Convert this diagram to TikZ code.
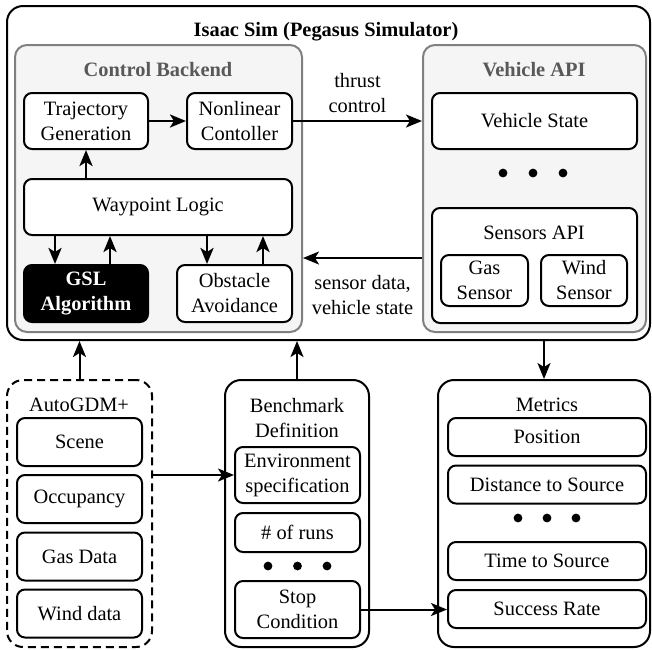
\documentclass[tikz,border=0pt]{standalone}
\usepackage{fontspec}
\setmainfont{Liberation Serif}
\newfontfamily\diagfont{Liberation Serif}
\usetikzlibrary{arrows.meta}

\definecolor{panelfill}{HTML}{F5F5F5}
\definecolor{paneldraw}{HTML}{808080}
\definecolor{titlegray}{HTML}{595959}

\begin{document}
\begin{tikzpicture}[
        x=0.5pt, y=-0.5pt,
        font=\diagfont\fontsize{10.2}{12.5}\selectfont,
        every node/.style={inner sep=0pt, align=center},
        outer/.style={draw, rounded corners=8pt, line width=1pt},
        panel/.style={draw=paneldraw, fill=panelfill, rounded corners=6pt, line width=1pt},
        group/.style={draw, rounded corners=8pt, line width=1pt},
        box/.style={draw, fill=white, rounded corners=4pt, line width=1pt},
        title/.style={font=\diagfont\fontsize{10.2}{12.5}\selectfont\bfseries},
        arr/.style={-{Stealth[length=8pt, width=6.5pt, inset=2pt]}, line width=1pt},
        thickarr/.style={arr, line width=1.4pt}
    ]
    \useasboundingbox (0,0) rectangle (652,649);

    % simulator
    \node[outer, minimum width=321.5pt, minimum height=167pt] (isaac) at (328.5,173) {};
    \node[title] (isaact) at (326,32) {Isaac Sim (Pegasus Simulator)};

    % control backend
    \node[panel, minimum width=143.5pt, minimum height=143.5pt] (ctrl) at (158.5,188.5) {};
    \node[title, text=titlegray] (ctrlt) at (158,70) {Control Backend};
    \node[box, minimum width=62pt, minimum height=28pt]   (traj)   at ( 86,121)   {Trajectory\\Generation};
    \node[box, minimum width=52.5pt, minimum height=28pt] (nonlin) at (239.5,121) {Nonlinear\\Contoller};
    \node[box, minimum width=134pt, minimum height=28pt]  (waypt)  at (158,207)   {Waypoint Logic};
    \node[box, title, fill=black, text=white, minimum width=62pt, minimum height=28.5pt]
        (gsl) at (86,293.5) {GSL\\Algorithm};
    \node[box, minimum width=57.5pt, minimum height=28.5pt] (obst) at (234.5,293.5) {Obstacle\\Avoidance};

    % vehicle api
    \node[panel, minimum width=111.5pt, minimum height=143.5pt] (vapi) at (534.5,188.5) {};
    \node[title, text=titlegray] (vapit) at (534,70) {Vehicle API};
    \node[box, minimum width=102.5pt, minimum height=28pt] (vstate) at (534.5,121) {Vehicle State};
    \foreach \dx in {-30,0,30}
        \fill (533+\dx,173) circle (2.2pt);
    \node[box, minimum width=102.5pt, minimum height=57.5pt] (sapi) at (534.5,265.5) {};
    \node (sapit) at (534,233) {Sensors API};
    \node[box, minimum width=43.5pt, minimum height=25.5pt] (gas)  at (484.5,280.5) {Gas\\Sensor};
    \node[box, minimum width=43pt, minimum height=25.5pt]   (wind) at (584,280.5)   {Wind\\Sensor};

    % arrows inside the simulator
    \coordinate (gslin)  at ([xshift=-15.5pt]gsl.north);
    \coordinate (gslout) at ([xshift=12pt]gsl.north);
    \coordinate (obsin)  at ([xshift=-13.75pt]obst.north);
    \coordinate (obsout) at ([xshift=14.25pt]obst.north);
    \coordinate (sdin)   at ([yshift=-34.75pt]vapi.west);

    \draw[thickarr] (traj) -- (nonlin);
    \draw[thickarr] (waypt.north -| traj) -- (traj.south);
    \draw[thickarr] (gslin |- waypt.south) -- (gslin);
    \draw[thickarr] (gslout) -- (gslout |- waypt.south);
    \draw[thickarr] (obsin |- waypt.south) -- (obsin);
    \draw[thickarr] (obsout) -- (obsout |- waypt.south);
    \draw[arr] (nonlin.east) -- node[above=3.5pt] {thrust\\control} (nonlin -| vapi.west);
    \draw[arr] (sdin) -- node[below=8pt] {sensor data,\\vehicle state} (sdin -| ctrl.east);

    % autogdm
    \node[group, dashed, dash pattern=on 4pt off 2.5pt, minimum width=72.5pt, minimum height=133.5pt]
        (autogdm) at (79.5,513.5) {};
    \node (autogdmt) at (79,405) {AutoGDM+};
    \node[box, minimum width=62.5pt, minimum height=24pt] (scene)    at (79.5,442)   {Scene};
    \node[box, minimum width=62.5pt, minimum height=24pt] (occ)      at (79.5,499)   {Occupancy};
    \node[box, minimum width=62.5pt, minimum height=24pt] (gasdata)  at (79.5,556.5) {Gas Data};
    \node[box, minimum width=62.5pt, minimum height=24pt] (winddata) at (79.5,613.5) {Wind data};

    % benchmark
    \node[group, minimum width=72pt, minimum height=133.5pt] (bench) at (297,513.5) {};
    \node (bencht) at (297,418) {Benchmark\\Definition};
    \node[box, minimum width=62.5pt, minimum height=28pt]   (env)  at (297.5,475)   {Environment\\specification};
    \node[box, minimum width=62.5pt, minimum height=19.5pt] (runs) at (297.5,532.5) {\# of runs};
    \foreach \dx in {-29.5,0,29.5}
        \fill (297.5+\dx,566) circle (2.2pt);
    \node[box, minimum width=62.5pt, minimum height=28.5pt] (stop) at (297.5,609.5) {Stop\\Condition};

    % metrics
    \node[group, minimum width=106pt, minimum height=133.5pt] (metrics) at (544,513.5) {};
    \node (metricst) at (547,405) {Metrics};
    \node[box, minimum width=99pt, minimum height=19pt] (pos)  at (547,437)   {Position};
    \node[box, minimum width=99pt, minimum height=19pt] (dist) at (547,484.5) {Distance to Source};
    \foreach \dx in {-29,0,29}
        \fill (547+\dx,518) circle (2.2pt);
    \node[box, minimum width=99pt, minimum height=19pt] (time) at (547,561)   {Time to Source};
    \node[box, minimum width=99pt, minimum height=19pt] (succ) at (547,609)   {Success Rate};

    % arrows between the blocks
    \draw[arr] (autogdm.north) -- (autogdm.north |- isaac.south);
    \draw[arr] (bench.north) -- (bench.north |- isaac.south);
    \draw[arr] (metrics.north |- isaac.south) -- (metrics.north);
    \draw[arr] (autogdm.east |- env) -- (env.west);
    \draw[arr] (stop.east) -- (stop.east -| succ.west);
\end{tikzpicture}
\end{document}
